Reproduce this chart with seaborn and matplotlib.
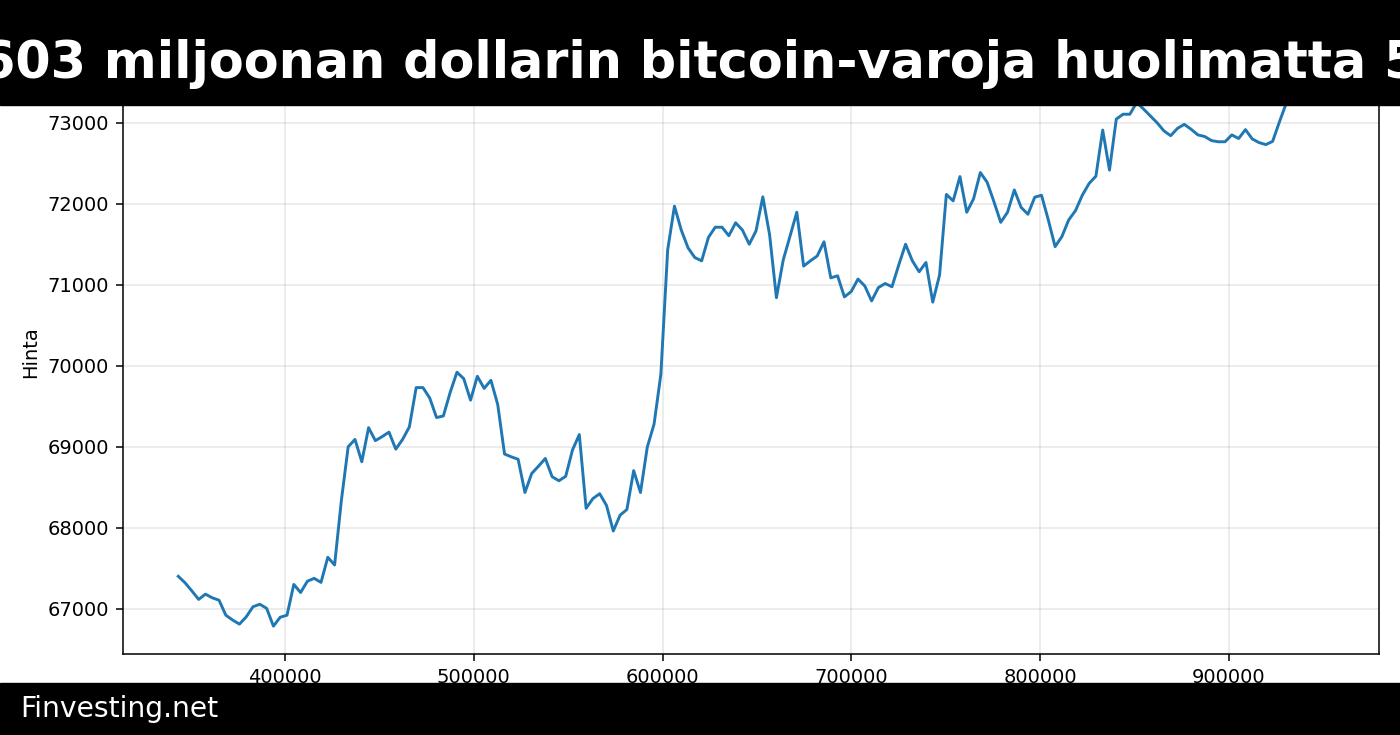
import numpy as np
import matplotlib
matplotlib.use("Agg")
import matplotlib.pyplot as plt
from matplotlib.patches import Rectangle
import seaborn as sns

# hourly prices
prices = [
    67400, 67320, 67220, 67115, 67180, 67135, 67105, 66920, 66860, 66810,
    66900, 67025, 67055, 67005, 66785, 66895, 66920, 67300, 67200, 67340,
    67375, 67325, 67635, 67540, 68340, 69000, 69090, 68815, 69235, 69075,
    69125, 69180, 68970, 69090, 69245, 69730, 69730, 69600, 69360, 69380,
    69670, 69920, 69840, 69575, 69870, 69720, 69820, 69520, 68910, 68875,
    68845, 68435, 68670, 68760, 68855, 68630, 68580, 68635, 68960, 69150,
    68240, 68360, 68420, 68275, 67960, 68155, 68225, 68705, 68435, 68995,
    69280, 69895, 71430, 71970, 71675, 71455, 71335, 71295, 71585, 71710,
    71710, 71605, 71765, 71675, 71500, 71665, 72085, 71615, 70840, 71305,
    71600, 71895, 71230, 71295, 71355, 71530, 71085, 71110, 70850, 70915,
    71070, 70985, 70800, 70965, 71015, 70975, 71245, 71500, 71295, 71160,
    71275, 70785, 71120, 72115, 72035, 72335, 71895, 72060, 72385, 72265,
    72025, 71770, 71895, 72170, 71955, 71870, 72080, 72105, 71800, 71470,
    71595, 71800, 71915, 72105, 72250, 72340, 72910, 72415, 73045, 73105,
    73105, 73250, 73170, 73085, 73000, 72900, 72840, 72930, 72980, 72920,
    72850, 72830, 72780, 72765, 72765, 72850, 72805, 72915, 72800, 72755,
    72730, 72770, 73010, 73240, 73420, 73480, 73400, 73510, 73450,
]
start_sec = 343500
step_sec = 3600
seconds = start_sec + step_sec * np.arange(len(prices))

title = "603 miljoonan dollarin bitcoin-varoja huolimatta 5"
footer = "Finvesting.net"

fig = plt.figure(figsize=(14, 7.35), dpi=100)
ax = fig.add_axes([0.0876, 0.1102, 0.8974, 0.8220])

sns.lineplot(x=seconds, y=prices, ax=ax, color="#1f77b4", linewidth=2.1)

ax.set_xlim(314040, 979440)
ax.set_ylim(66441, 73900)
ax.set_ylabel("Hinta", fontsize=14, labelpad=5.6)
ax.grid(True, color="#b0b0b0", alpha=0.3, linewidth=1.1)
ax.tick_params(labelsize=14, length=4.9, width=1.1, pad=4.9)
for sp in ax.spines.values():
    sp.set_linewidth(1.1)

# black banner on top and footer strip (title runs past the edges, as in the source)
fig.add_artist(Rectangle((0, 1 - 105 / 735), 1, 105 / 735,
                         transform=fig.transFigure, color="black", zorder=5))
fig.add_artist(Rectangle((0, 0), 1, 52 / 735,
                         transform=fig.transFigure, color="black", zorder=5))
fig.text(0.5, 1 - 78 / 735, title, ha="center", va="baseline",
         fontsize=36.6, fontweight="bold", color="white", zorder=6)
fig.text(20.5 / 1400, 1 - 717 / 735, footer, ha="left", va="baseline",
         fontsize=20.3, color="white", zorder=6)

fig.savefig("out.png", dpi=100)
